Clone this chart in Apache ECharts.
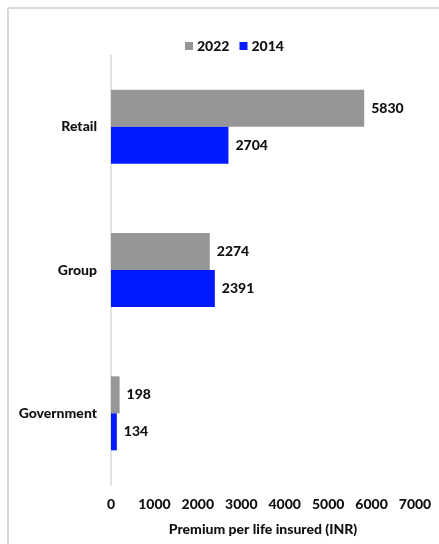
<!DOCTYPE html>
<html>
<head>
<meta charset="utf-8">
<script src="https://cdn.jsdelivr.net/npm/echarts@6/dist/echarts.min.js"></script>
<style>
  html, body { margin: 0; padding: 0; background: #ffffff; }
  #chart { width: 439px; height: 544px; }
</style>
</head>
<body>
<div id="chart"></div>
<script>
// Premium per life insured, by business segment
const categories = ['Retail', 'Group', 'Government'];
const seriesNames = ['2022', '2014'];
const values2022 = [5830, 2274, 198];
const values2014 = [2704, 2391, 134];
const xTicks = { min: 0, max: 7000, interval: 1000 };

const FONT = 'Lato, "Open Sans", sans-serif';
const WEIGHT = 900;
const chart = echarts.init(document.getElementById('chart'), null, { renderer: 'canvas' });

const labelStyle = {
  show: true,
  position: 'right',
  distance: 7,
  color: '#111',
  fontFamily: FONT,
  fontWeight: WEIGHT,
  fontSize: 14
};

chart.setOption({
  backgroundColor: '#ffffff',
  animation: false,
  graphic: [
    { type: 'line', shape: { x1: 8, y1: 8, x2: 439, y2: 8 }, style: { stroke: '#d9d9d9', lineWidth: 2 } },
    { type: 'line', shape: { x1: 8, y1: 8, x2: 8, y2: 544 }, style: { stroke: '#d9d9d9', lineWidth: 2 } }
  ],
  legend: {
    data: seriesNames,
    top: 34,
    left: 180,
    itemWidth: 8,
    itemHeight: 8,
    itemGap: 10,
    icon: 'rect',
    textStyle: { fontFamily: FONT, fontWeight: WEIGHT, fontSize: 14, color: '#111', padding: [0, 0, 0, -1] }
  },
  grid: { left: 111, right: 24, top: 55, bottom: 59, containLabel: false },
  xAxis: {
    type: 'value',
    min: xTicks.min,
    max: xTicks.max,
    interval: xTicks.interval,
    splitLine: { show: false },
    axisLine: { show: false },
    axisTick: { show: false },
    axisLabel: {
      margin: 12,
      color: '#111',
      fontFamily: FONT,
      fontWeight: WEIGHT,
      fontSize: 14,
      formatter: (v) => String(v)
    },
    name: 'Premium per life insured (INR)',
    nameLocation: 'middle',
    nameGap: 37,
    nameTextStyle: { color: '#111', fontFamily: FONT, fontWeight: WEIGHT, fontSize: 14 }
  },
  yAxis: {
    type: 'category',
    data: categories,
    inverse: true,
    axisLine: { show: true, lineStyle: { color: '#d9d9d9', width: 1.5 } },
    axisTick: { show: false },
    axisLabel: { margin: 14, color: '#111', fontFamily: FONT, fontWeight: WEIGHT, fontSize: 14 }
  },
  series: [
    {
      name: seriesNames[0],
      type: 'bar',
      data: values2022,
      barWidth: 37,
      barGap: '0%',
      itemStyle: { color: '#969696' },
      label: labelStyle
    },
    {
      name: seriesNames[1],
      type: 'bar',
      data: values2014,
      barWidth: 37,
      barGap: '0%',
      itemStyle: { color: '#0019ff' },
      label: labelStyle
    }
  ]
});
</script>
</body>
</html>
